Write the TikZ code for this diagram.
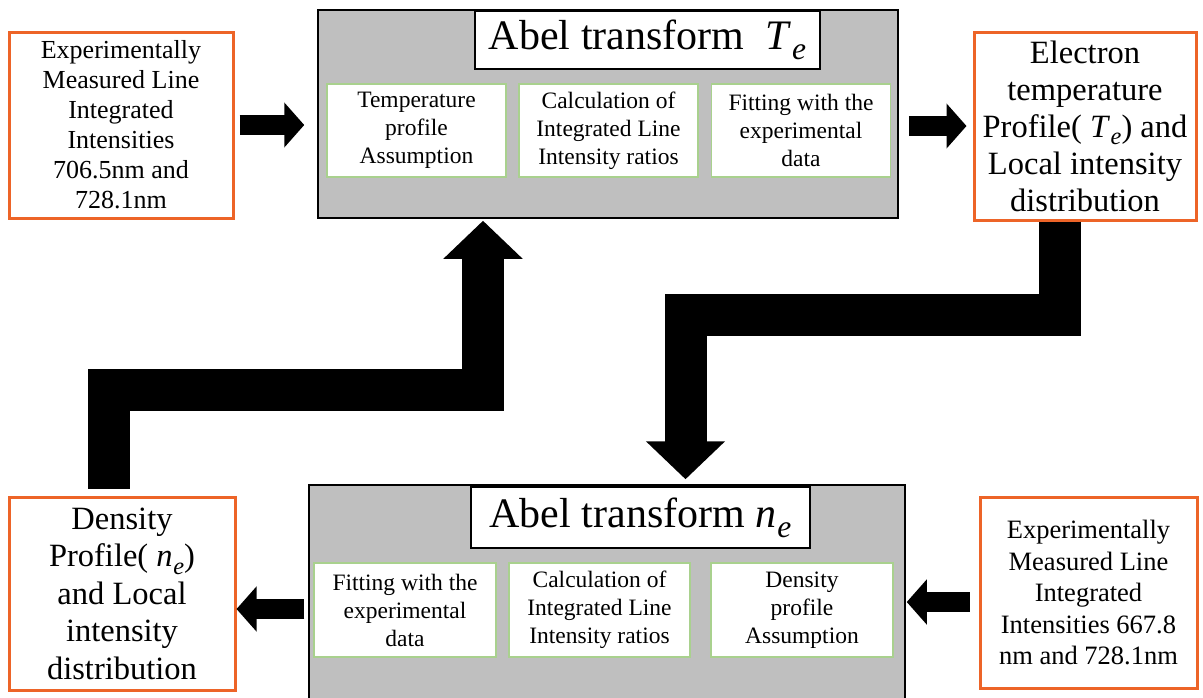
\documentclass[tikz,border=0pt]{standalone}
\usepackage{graphicx}
\usepackage{fontspec}
\setmainfont{Liberation Serif}
\usetikzlibrary{arrows.meta,shadows}
\definecolor{orng}{RGB}{237,100,40}
\definecolor{grn}{RGB}{169,209,142}
\definecolor{gry}{RGB}{191,191,191}
\newcommand{\vsub}[2]{\textit{#1}\kern0.02em\raisebox{-0.24em}{\scalebox{0.75}{\textit{#2}}}}
\begin{document}
\begin{tikzpicture}[x=1pt,y=-1pt,
  obox/.style={draw=orng, line width=3pt, fill=white, align=center, inner sep=0pt,
    drop shadow={shadow xshift=1.5pt, shadow yshift=-2pt, fill=black, opacity=0.25}},
  graybox/.style={draw=black, line width=1.5pt, fill=gry, inner sep=0pt},
  titlebox/.style={draw=black, line width=2pt, fill=white, inner sep=0pt,
    font=\fontsize{42}{48}\selectfont},
  subbox/.style={draw=grn, line width=1.5pt, fill=white, align=center, inner sep=0pt,
    minimum width=179pt, minimum height=93pt, font=\fontsize{23.5}{28}\selectfont},
  smallarrow/.style={line width=20pt, -{Triangle[width=44pt,length=20pt]}},
  bigarrow/.style={line width=42pt, line join=miter, -{Triangle[width=77pt,length=38pt]}}]
\useasboundingbox (0,0) rectangle (1203,697);

% top row
\node[obox, minimum width=224pt, minimum height=186pt, font=\fontsize{26}{30}\selectfont] (tl) at (121,125)
  {Experimentally\\Measured Line\\Integrated\\Intensities\\706.5nm and\\728.1nm};
\node[graybox, minimum width=580pt, minimum height=208pt] (topgray) at (608,114) {};
\node[titlebox, minimum width=345pt, minimum height=58pt] (ttitle) at (647.5,40) {Abel transform\ \ \vsub{T}{e}};
\node[subbox] (g1) at (416.5,130.5) {Temperature\\profile\\Assumption};
\node[subbox] (g2) at (608.5,130.5) {Calculation of\\Integrated Line\\Intensity ratios};
\node[subbox] (g3) at (801,130.5) {Fitting with the\\experimental\\data};
\node[obox, minimum width=222pt, minimum height=188pt, font=\fontsize{32.5}{37}\selectfont] (tr) at (1085,126)
  {Electron\\temperature\\Profile( \vsub{T}{e}) and\\Local intensity\\distribution};

% bottom row
\node[obox, minimum width=226pt, minimum height=193pt, font=\fontsize{32.5}{37.5}\selectfont] (bl) at (122,593.5)
  {Density\\Profile( \vsub{n}{e})\\and Local\\intensity\\distribution};
\node[graybox, minimum width=596pt, minimum height=225pt] (botgray) at (607,597.5) {};
\node[titlebox, minimum width=339pt, minimum height=61pt] (btitle) at (640.5,517.5) {Abel transform \vsub{n}{e}};
\node[subbox, minimum width=182pt, minimum height=94pt] (h1) at (405,610) {Fitting with the\\experimental\\data};
\node[subbox, minimum width=181pt, minimum height=94pt] (h2) at (599.5,610) {Calculation of\\Integrated Line\\Intensity ratios};
\node[subbox, minimum width=182pt, minimum height=94pt] (h3) at (802,610) {Density\\profile\\Assumption};
\node[obox, minimum width=217pt, minimum height=191pt, font=\fontsize{26.5}{31.5}\selectfont] (br) at (1088.5,592.5)
  {Experimentally\\Measured Line\\Integrated\\Intensities 667.8\\nm and 728.1nm};

% small arrows
\draw[smallarrow, shorten <=5pt, shorten >=13pt] (tl.east) -- (tl.east -| topgray.west);
\draw[smallarrow, shorten <=10pt, shorten >=6pt] (topgray.east |- tr.west) -- (tr.west);
\coordinate (a3) at ([yshift=-11.5pt]botgray.west);
\draw[smallarrow, shorten <=4pt] (a3) -- (a3 -| bl.east);
\coordinate (a4) at ([yshift=-9.5pt]br.west);
\draw[smallarrow, shorten <=9pt, shorten >=1pt] (a4) -- (a4 -| botgray.east);

% big connectors
\coordinate (u0) at ([xshift=-13.5pt,yshift=7pt]bl.north);
\coordinate (ubend) at (483,389.5);
\draw[bigarrow, shorten >=2pt] (u0) |- (ubend) -- (ubend |- topgray.south);
\coordinate (d0) at ([xshift=-25.5pt]tr.south);
\coordinate (dbend) at (685.5,315);
\draw[bigarrow, shorten >=5pt] (d0) |- (dbend) -- (dbend |- botgray.north);
\end{tikzpicture}
\end{document}
